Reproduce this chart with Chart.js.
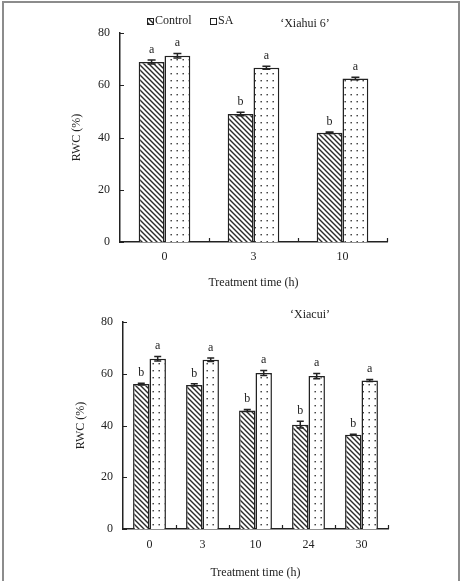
<!DOCTYPE html>
<html>
<head>
<meta charset="utf-8">
<script src="https://cdn.jsdelivr.net/npm/chart.js@4.4.1/dist/chart.umd.min.js"></script>
<style>
  html, body { margin: 0; padding: 0; background: #fff; width: 461px; height: 581px; overflow: hidden; }
  #frame { position: absolute; left: 2px; top: 1px; width: 458px; height: 640px; box-sizing: border-box; border: 2px solid #8c8c8c; }
  #c1 { position: absolute; left: 0; top: 0; }
  #c2 { position: absolute; left: 0; top: 290px; }
</style>
</head>
<body>
<div id="frame"></div>
<canvas id="c1" width="461" height="295"></canvas>
<canvas id="c2" width="461" height="291"></canvas>
<script>
// ---- Data: 'Xiahui 6' ----
const categories1 = ['0', '3', '10'];
const control1 = [68.9, 49.0, 41.8];
const sa1 = [71.3, 66.7, 62.6];
const controlErr1 = [0.8, 0.7, 0.3];
const saErr1 = [0.9, 0.6, 0.5];
const controlSig1 = ['a', 'b', 'b'];
const saSig1 = ['a', 'a', 'a'];

// ---- Data: 'Xiacui' ----
const categories2 = ['0', '3', '10', '24', '30'];
const control2 = [56.0, 55.7, 45.8, 40.3, 36.4];
const sa2 = [65.8, 65.4, 60.3, 59.1, 57.4];
const controlErr2 = [0.3, 0.4, 0.4, 1.3, 0.2];
const saErr2 = [0.9, 0.7, 1.0, 1.0, 0.4];
const controlSig2 = ['b', 'b', 'b', 'b', 'b'];
const saSig2 = ['a', 'a', 'a', 'a', 'a'];

const yMin = 0, yMax = 80, yStep = 20;
const seriesNames = ['Control', 'SA'];
const cultivar1 = '\u2018Xiahui 6\u2019';
const cultivar2 = '\u2018Xiacui\u2019';
const xTitle = 'Treatment time (h)';
const yTitle = 'RWC (%)';

const FONT = '"Liberation Serif", "Times New Roman", serif';
const INK = '#222';

function hatchPattern() {
  const s = 5;
  const c = document.createElement('canvas');
  c.width = s; c.height = s;
  const g = c.getContext('2d');
  g.fillStyle = '#fff'; g.fillRect(0, 0, s, s);
  g.strokeStyle = '#2a2a2a'; g.lineWidth = 1.4;
  g.beginPath();
  g.moveTo(0, 0); g.lineTo(s, s);
  g.moveTo(-1, s - 1); g.lineTo(1, s + 1);
  g.moveTo(s - 1, -1); g.lineTo(s + 1, 1);
  g.stroke();
  return g.createPattern(c, 'repeat');
}
function dotPattern() {
  const w = 6, h = 7;
  const c = document.createElement('canvas');
  c.width = w; c.height = h;
  const g = c.getContext('2d');
  g.fillStyle = '#fff'; g.fillRect(0, 0, w, h);
  g.fillStyle = '#333';
  g.fillRect(2.5, 3, 1.4, 1.4);
  return g.createPattern(c, 'repeat');
}

function makeChart(canvasId, cats, ctrl, sa, ctrlErr, saErr, ctrlSig, saSig, cfg) {
  const errs = [ctrlErr, saErr];
  const sigs = [ctrlSig, saSig];
  const extras = {
    id: 'extras',
    afterDatasetsDraw(chart) {
      const c = chart.ctx;
      const y = chart.scales.y;
      const x = chart.scales.x;
      const ca = chart.chartArea;
      c.save();
      // error bars + significance letters
      chart.data.datasets.forEach((ds, di) => {
        const meta = chart.getDatasetMeta(di);
        meta.data.forEach((el, i) => {
          const v = ds.data[i];
          const e = errs[di][i];
          const yTop = y.getPixelForValue(v + e);
          const yBot = y.getPixelForValue(v - e);
          const cap = cfg.cap;
          c.strokeStyle = INK; c.lineWidth = 1.5;
          c.beginPath();
          c.moveTo(el.x, yTop); c.lineTo(el.x, yBot);
          c.moveTo(el.x - cap / 2, yTop); c.lineTo(el.x + cap / 2, yTop);
          c.moveTo(el.x - cap / 2, yBot); c.lineTo(el.x + cap / 2, yBot);
          c.stroke();
          c.fillStyle = INK;
          c.font = '12px ' + FONT;
          c.textAlign = 'center';
          c.textBaseline = 'alphabetic';
          c.fillText(sigs[di][i], el.x, yTop - 7);
        });
      });
      // inward tick marks on y axis
      c.strokeStyle = INK; c.lineWidth = 1.2;
      c.beginPath();
      for (let t = yMin; t <= yMax; t += yStep) {
        const py = Math.round(y.getPixelForValue(t)) + 0.5;
        c.moveTo(ca.left, py); c.lineTo(ca.left + 4, py);
      }
      // inward tick marks at category boundaries on x axis
      const n = cats.length;
      const step = x.getPixelForValue(1) - x.getPixelForValue(0);
      for (let i = 1; i <= n; i++) {
        const px = Math.round(x.getPixelForValue(i - 1) + step / 2) + 0.5;
        c.moveTo(px, ca.bottom); c.lineTo(px, ca.bottom - 4);
      }
      c.stroke();
      // cultivar label
      c.fillStyle = INK;
      c.font = '12px ' + FONT;
      c.textAlign = 'center';
      c.textBaseline = 'middle';
      c.fillText(cfg.cultivar, ca.left + cfg.cultX, cfg.cultY);
      // legend
      if (cfg.legend) {
        const pats = [chart.data.datasets[0].backgroundColor, chart.data.datasets[1].backgroundColor];
        const lx = [ca.left + 27, ca.left + 90];
        const ly = 18;
        c.textAlign = 'left';
        c.textBaseline = 'middle';
        seriesNames.forEach((nm, k) => {
          c.fillStyle = pats[k];
          c.fillRect(lx[k], ly, 6, 6);
          c.strokeStyle = INK; c.lineWidth = 1;
          c.strokeRect(lx[k] + 0.5, ly + 0.5, 6, 6);
          c.fillStyle = INK;
          c.fillText(nm, lx[k] + 8, ly + 3);
        });
      }
      c.restore();
    }
  };

  return new Chart(document.getElementById(canvasId), {
    type: 'bar',
    data: {
      labels: cats,
      datasets: [
        { label: seriesNames[0], data: ctrl, backgroundColor: hatchPattern(), borderColor: INK, borderWidth: 1.5, barPercentage: 1, categoryPercentage: cfg.catPct },
        { label: seriesNames[1], data: sa, backgroundColor: dotPattern(), borderColor: INK, borderWidth: 1.5, barPercentage: 1, categoryPercentage: cfg.catPct }
      ]
    },
    options: {
      responsive: false,
      animation: false,
      devicePixelRatio: 1,
      layout: { padding: cfg.padding },
      plugins: { legend: { display: false }, tooltip: { enabled: false } },
      scales: {
        x: {
          grid: { display: false, drawTicks: false },
          border: { display: true, color: INK, width: 1.5 },
          ticks: { color: INK, font: { family: FONT, size: 12 }, padding: cfg.xTickPad, maxRotation: 0 },
          title: { display: true, text: xTitle, color: INK, font: { family: FONT, size: 12 }, padding: { top: 0, bottom: cfg.xTitlePadB } },
          afterFit(s) { s.height = cfg.xHeight; }
        },
        y: {
          min: yMin, max: yMax,
          grid: { display: false, drawTicks: false },
          border: { display: true, color: INK, width: 1.5 },
          ticks: { stepSize: yStep, color: INK, font: { family: FONT, size: 12 }, padding: 10 },
          title: { display: true, text: yTitle, color: INK, font: { family: FONT, size: 12 }, padding: { top: 4, bottom: 0 } },
          afterFit(s) { s.width = cfg.yWidth; }
        }
      }
    },
    plugins: [extras]
  });
}

makeChart('c1', categories1, control1, sa1, controlErr1, saErr1, controlSig1, saSig1, {
  padding: { left: 66, right: 74, top: 33, bottom: 3 },
  yWidth: 54, xHeight: 50, xTickPad: 8, xTitlePadB: 2, catPct: 0.58, cap: 8,
  cultivar: cultivar1, cultX: 185, cultY: 24, legend: true
});
makeChart('c2', categories2, control2, sa2, controlErr2, saErr2, controlSig2, saSig2, {
  padding: { left: 70, right: 73, top: 32, bottom: 1 },
  yWidth: 53, xHeight: 51, xTickPad: 9, xTitlePadB: 0, catPct: 0.62, cap: 7,
  cultivar: cultivar2, cultX: 187, cultY: 25, legend: false
});
</script>
</body>
</html>
